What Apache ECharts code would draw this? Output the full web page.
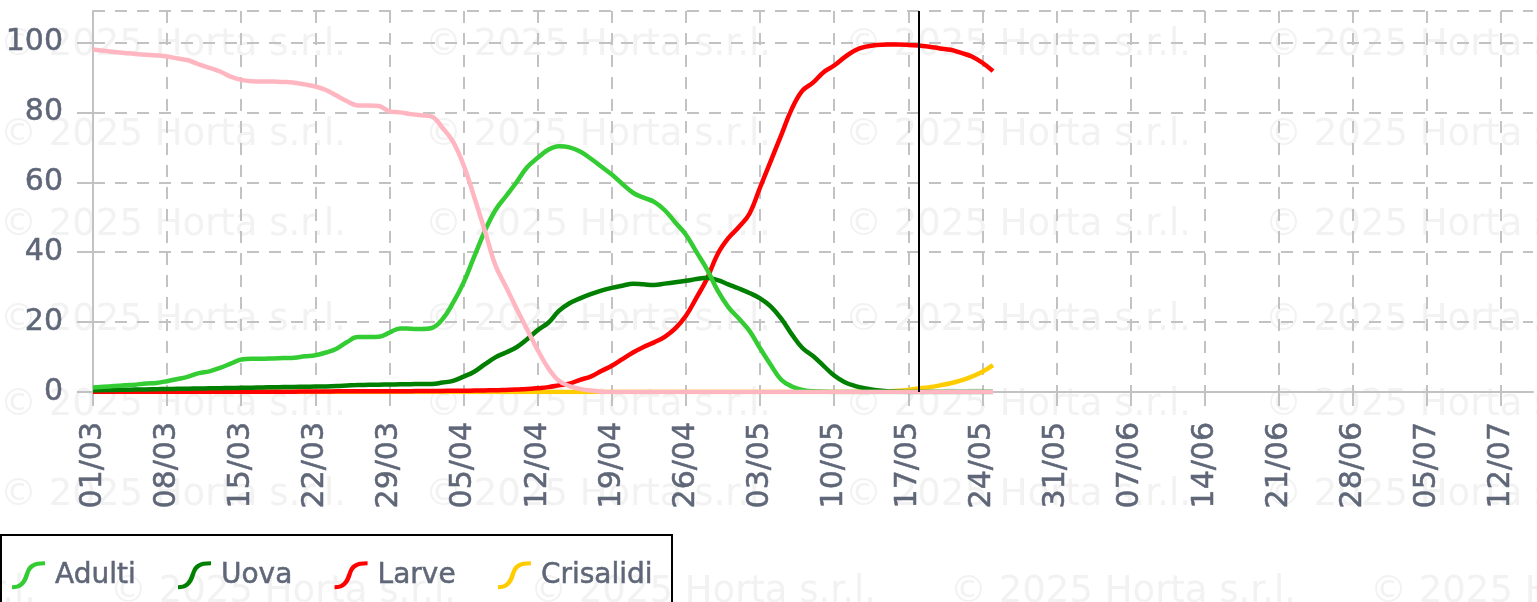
<!DOCTYPE html>
<html>
<head>
<meta charset="utf-8">
<script src="https://cdn.jsdelivr.net/npm/echarts@6/dist/echarts.min.js"></script>
<style>
html,body{margin:0;padding:0;background:#fff;}
#chart{width:1537px;height:602px;}
</style>
</head>
<body>
<div id="chart"></div>
<script>
// Day-by-day category labels, 01/03 .. 15/07
const firstDay = [2025, 2, 1];
const lastDay = [2025, 6, 15];
const categories = [];
(function () {
  let t = Date.UTC(firstDay[0], firstDay[1], firstDay[2]);
  const end = Date.UTC(lastDay[0], lastDay[1], lastDay[2]);
  while (t <= end) {
    const d = new Date(t);
    categories.push(String(d.getUTCDate()).padStart(2, '0') + '/' + String(d.getUTCMonth() + 1).padStart(2, '0'));
    t += 86400000;
  }
})();

const seriesNames = ['Adulti', 'Uova', 'Larve', 'Crisalidi'];
const todayLabel = '18/05';
const watermarkText = '© 2025 Horta s.r.l.';

// values from 01/03 to 25/05
const adulti = [
  1.3,1.5,1.7,1.9,2.1,2.4,2.6,3.1,3.7,4.4,
  5.4,5.9,6.9,8.1,9.3,9.5,9.5,9.6,9.7,9.8,
  10.2,10.5,11.3,12.4,14.3,15.7,15.7,15.8,17.0,18.2,
  18.1,18.0,18.3,20.8,25.5,31.3,38.7,46.0,52.0,56.0,
  60.0,64.3,67.0,69.3,70.3,70.0,68.8,66.8,64.5,62.2,
  59.5,57.0,55.6,54.4,52.0,48.5,45.0,40.0,35.0,29.0,
  24.3,21.0,17.5,12.5,7.8,3.5,1.6,0.6,0.2,0.1,
  0,0,0,0,0,0,0,0,0,0,
  0,0,0,0,0,0
];
const uova = [
  0.5,0.55,0.6,0.65,0.7,0.75,0.8,0.85,0.9,0.95,
  1.0,1.05,1.1,1.15,1.2,1.25,1.3,1.35,1.4,1.45,
  1.5,1.55,1.6,1.7,1.85,2.0,2.05,2.1,2.15,2.2,
  2.25,2.3,2.3,2.7,3.2,4.4,5.8,7.9,9.9,11.3,
  12.8,15.1,17.7,19.8,23.2,25.4,26.8,28.0,29.0,29.8,
  30.4,31.0,30.8,30.6,31.0,31.4,31.8,32.3,32.7,32.0,
  30.8,29.6,28.3,26.8,24.5,21.0,16.5,12.6,10.3,7.5,
  4.7,2.8,1.7,1.0,0.5,0.2,0.1,0,0,0,
  0,0,0,0,0,0
];
const larve = [
  0.1,0.1,0.1,0.1,0.1,0.1,0.1,0.1,0.1,0.1,
  0.1,0.1,0.1,0.1,0.1,0.1,0.1,0.1,0.1,0.1,
  0.15,0.15,0.15,0.2,0.2,0.2,0.2,0.2,0.25,0.25,
  0.25,0.3,0.3,0.3,0.35,0.35,0.4,0.45,0.5,0.6,
  0.7,0.85,1.1,1.4,1.9,2.4,3.5,4.4,6.0,7.5,
  9.4,11.3,12.9,14.2,15.8,18.2,21.8,27.0,32.5,39.5,
  44.0,47.2,51.0,58.5,66.0,73.5,81.0,86.2,88.5,91.5,
  93.4,95.8,97.8,98.8,99.3,99.4,99.4,99.3,99.1,98.8,
  98.3,97.9,97.0,96.0,94.2,91.8
];
const crisalidi = [
  0,0,0,0,0,0,0,0,0,0,
  0,0,0,0,0,0,0,0,0,0,
  0,0,0,0,0,0,0,0,0,0,
  0,0,0,0,0,0,0,0,0,0,
  0,0,0,0,0,0,0,0,0,0,
  0,0,0,0,0,0,0,0,0,0,
  0,0,0,0,0,0,0,0,0,0,
  0,0,0,0.05,0.1,0.2,0.35,0.6,1.0,1.4,
  1.9,2.5,3.3,4.4,5.8,7.7
];
const svernanti = [
  98.0,97.6,97.3,97.0,96.7,96.5,96.3,96.0,95.4,94.9,
  93.7,92.7,91.7,90.2,89.3,88.9,88.8,88.8,88.7,88.5,
  88.0,87.4,86.4,84.8,83.2,82.0,82.0,81.8,80.3,80.0,
  79.5,79.2,78.8,75.6,71.6,64.9,55.8,46.2,36.3,30.1,
  23.9,17.9,12.0,6.8,3.2,1.7,0.9,0.4,0.1,0,
  0,0,0,0,0,0,0,0,0,0,
  0,0,0,0,0,0,0,0,0,0,
  0,0,0,0,0,0,0,0,0,0,
  0,0,0,0,0,0
];

const yTicks = { min: 0, max: 109, interval: 20 };

const FONT = '"DejaVu Sans", Verdana, sans-serif';
const TXT = '#5e6677';
const GRIDC = '#c2c2c2';
const sIcon = 'path://M0,26 C7,26 10,23 13,14 C16,5 20,2 33,2 L33,6 C22,6 19,9 17,16 C14,26 9,30 0,30 Z';
const heavy = { textBorderColor: TXT, textBorderWidth: 0.5 };

// watermark grid
const wm = [];
const wmRows = [45, 135, 225, 320, 405, 495];
const wmCols = [0, 425, 845, 1265];
wmRows.forEach(y => wmCols.forEach(x => wm.push({
  type: 'text', z: -10, silent: true,
  style: { text: watermarkText, x: x, y: y, fill: '#f2f2f2', font: '37px ' + FONT, verticalAlign: 'middle' }
})));
[-310, 110, 530, 950, 1370].forEach(x => wm.push({
  type: 'text', z: -10, silent: true,
  style: { text: watermarkText, x: x, y: 592, fill: '#f2f2f2', font: '37px ' + FONT, verticalAlign: 'middle' }
}));
wm.push({
  type: 'rect', silent: true, z: 10,
  shape: { x: 1, y: 535, width: 671, height: 90 },
  style: { fill: 'none', stroke: '#000', lineWidth: 2 }
});

function lineSeries(name, data, color, extra) {
  return Object.assign({
    name: name, type: 'line', data: data, smooth: 0.4, showSymbol: false, symbol: 'none',
    lineStyle: { color: color, width: 4.5 }, itemStyle: { color: color },
    animation: false
  }, extra || {});
}

const chart = echarts.init(document.getElementById('chart'), null, { renderer: 'canvas' });
chart.setOption({
  backgroundColor: '#fff',
  animation: false,
  graphic: wm,
  grid: { left: 93, right: 4, top: 11, bottom: 210, containLabel: false },
  legend: {
    data: seriesNames,
    left: 7, top: 556,
    icon: sIcon,
    itemWidth: 33, itemHeight: 30, itemGap: 42,
    itemStyle: { borderWidth: 0 },
    textStyle: Object.assign({ fontFamily: FONT, fontSize: 28, color: TXT, padding: [0, 0, 0, 5] }, heavy),
    selectedMode: false
  },
  xAxis: {
    type: 'category', data: categories, boundaryGap: false,
    axisLine: { lineStyle: { color: GRIDC, width: 2 } },
    axisTick: { show: true, interval: 6, length: 14, lineStyle: { color: GRIDC, width: 2 } },
    axisLabel: Object.assign({ interval: 6, rotate: 90, margin: 30, fontFamily: FONT, fontSize: 30, color: TXT }, heavy),
    splitLine: { show: true, interval: 6, lineStyle: { color: GRIDC, width: 2, type: [12, 10] } }
  },
  yAxis: {
    type: 'value', min: yTicks.min, max: yTicks.max, interval: yTicks.interval,
    axisLine: { show: true, lineStyle: { color: GRIDC, width: 2 } },
    axisTick: { show: true, length: 16, lineStyle: { color: GRIDC, width: 2 } },
    axisLabel: Object.assign({ margin: 30, fontFamily: FONT, fontSize: 30, color: TXT, showMaxLabel: false }, heavy),
    splitLine: { show: true, lineStyle: { color: GRIDC, width: 2, type: [12, 10] } }
  },
  series: [
    lineSeries('Crisalidi', crisalidi, '#ffcc00'),
    lineSeries('Larve', larve, '#ff0000', {
      markLine: {
        silent: true, symbol: ['none', 'none'], animation: false,
        label: { show: false },
        lineStyle: { color: '#000', width: 2, type: 'solid' },
        data: [{ xAxis: todayLabel }]
      }
    }),
    lineSeries('Uova', uova, '#007f00'),
    lineSeries('Adulti', adulti, '#33cc33'),
    lineSeries('Svernanti', svernanti, '#ffb6c1')
  ]
});
</script>
</body>
</html>
